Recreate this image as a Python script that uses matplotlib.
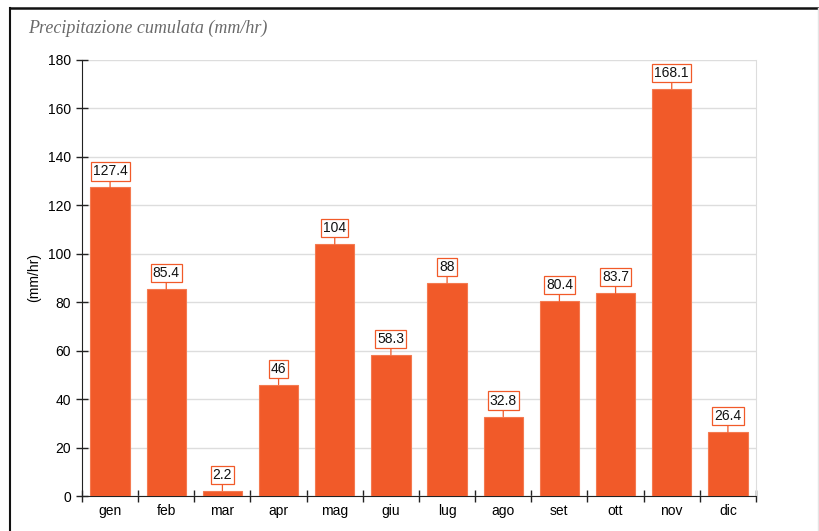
import matplotlib
matplotlib.use("Agg")
import matplotlib.pyplot as plt
from matplotlib.lines import Line2D
import numpy as np

months = ["gen", "feb", "mar", "apr", "mag", "giu", "lug", "ago", "set", "ott", "nov", "dic"]
values = [127.4, 85.4, 2.2, 46, 104, 58.3, 88, 32.8, 80.4, 83.7, 168.1, 26.4]
labels = ["127.4", "85.4", "2.2", "46", "104", "58.3", "88", "32.8", "80.4", "83.7", "168.1", "26.4"]
yticks = [0, 20, 40, 60, 80, 100, 120, 140, 160, 180]

plt.rcParams['font.family'] = ['Liberation Sans', 'DejaVu Sans']
W, H = 820, 531
fig = plt.figure(figsize=(W/100, H/100), dpi=100)
fig.patch.set_facecolor("white")

ax = fig.add_axes([82/W, 1-496/H, (756-82)/W, (496-60)/H])
bar_color = "#F15A29"
x = np.arange(len(months))
ax.bar(x, values, width=0.7, color=bar_color, edgecolor="#F47A50", linewidth=0.8, zorder=3)

for xi, v, lab in zip(x, values, labels):
    ax.annotate(lab, xy=(xi, v), xytext=(0, 11.5), textcoords="offset points",
                ha="center", va="center", fontsize=10, color="#111111",
                bbox=dict(boxstyle="square,pad=0.15", fc="white", ec=bar_color, lw=0.9),
                arrowprops=dict(arrowstyle="-", color=bar_color, lw=0.9,
                                shrinkA=0, shrinkB=0),
                zorder=5)

ax.set_xlim(-0.5, len(months)-0.5)
ax.set_ylim(0, 180)
ax.set_yticks(yticks)
ax.set_yticklabels([str(t) for t in yticks], fontsize=10)
ax.set_xticks(x)
ax.set_xticklabels(months, fontsize=10)
ax.tick_params(axis="x", which="major", length=0, pad=6)
ax.set_xticks(np.arange(-0.5, len(months)), minor=True)
ax.tick_params(axis="x", which="minor", length=8, direction="inout", width=1, color="#222222")
ax.tick_params(axis="y", length=8, direction="inout", width=1, color="#222222", pad=4)

ax.grid(axis="y", color="#dddddd", linewidth=1, zorder=0)
ax.set_axisbelow(True)
ax.spines["top"].set_visible(False)
ax.spines["right"].set_color("#dddddd")
ax.spines["left"].set_color("#222222")
ax.spines["bottom"].set_color("#222222")

ax.set_ylabel("(mm/hr)", fontsize=10, labelpad=5)

fig.text(28/W, 1-28/H, "Precipitazione cumulata (mm/hr)", fontsize=13, style="italic",
         family="Liberation Serif", color="#6a6a6a", va="center", ha="left")

fig.add_artist(Line2D([10/W, 10/W], [0, 1-8/H], color="#111111", lw=1.5, transform=fig.transFigure))
fig.add_artist(Line2D([10/W, 1], [1-8/H, 1-8/H], color="#111111", lw=1.8, transform=fig.transFigure))
fig.add_artist(Line2D([818/W, 818/W], [0, 1-8/H], color="#e4e4e4", lw=1, transform=fig.transFigure))

fig.savefig("out.png", dpi=100)
